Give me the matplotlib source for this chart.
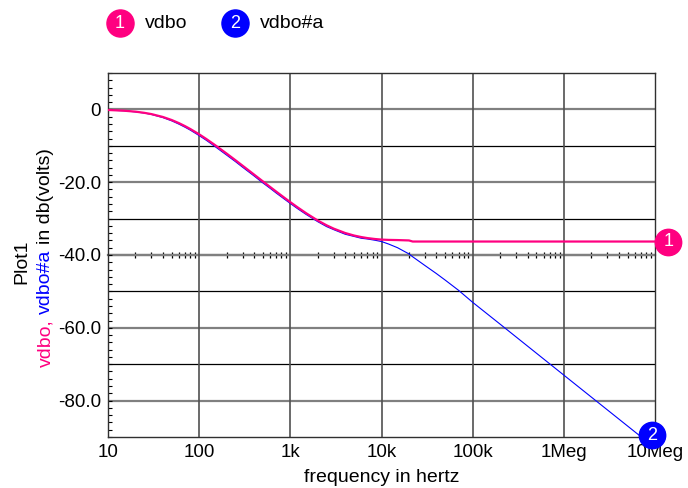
import numpy as np
import matplotlib
matplotlib.use("Agg")
import matplotlib.pyplot as plt
from matplotlib.lines import Line2D
from matplotlib.ticker import (LogLocator, MultipleLocator, NullFormatter,
                               NullLocator, FixedLocator, FuncFormatter)
from matplotlib.transforms import offset_copy

# frequency sweep (Hz) and the two traces (dB)
FREQ = [10, 15, 20, 25, 30, 40, 50, 60, 70, 80,
        100, 120, 150, 200, 250, 300, 400, 500, 600, 700, 850,
        1e3, 1.2e3, 1.5e3, 2e3, 2.5e3, 3e3, 4e3, 5e3, 6e3, 7e3, 8.5e3,
        1e4, 1.2e4, 1.5e4, 2e4, 2.2e4, 3e4, 4e4, 5e4, 7e4,
        1e5, 2e5, 1e6, 1e7]
VDBO = [-0.16, -0.36, -0.62, -0.94, -1.29, -2.08, -2.92, -3.77, -4.60, -5.39,
        -6.84, -8.14, -9.84, -12.13, -13.96, -15.48, -17.90, -19.78, -21.30, -22.58, -24.17,
        -25.48, -26.90, -28.56, -30.53, -31.84, -32.77, -33.96, -34.65, -35.07, -35.35, -35.61,
        -35.77, -35.85, -35.90, -36.00, -36.30, -36.30, -36.30, -36.30, -36.30,
        -36.30, -36.30, -36.30, -36.30]
VDBO_A = [-0.18, -0.38, -0.68, -1.00, -1.40, -2.25, -3.15, -4.05, -4.90, -5.70,
          -7.20, -8.50, -10.25, -12.55, -14.35, -15.90, -18.28, -20.20, -21.68, -22.98, -24.55,
          -25.85, -27.27, -28.90, -30.85, -32.20, -33.05, -34.30, -34.90, -35.40, -35.60, -35.95,
          -36.30, -37.00, -38.00, -39.70, -40.50, -42.90, -45.10, -46.90, -49.70,
          -53.00, -59.00, -73.00, -93.00]

SERIES = ["vdbo", "vdbo#a"]
X_TICKS = [10, 100, 1e3, 1e4, 1e5, 1e6, 1e7]
X_LABELS = ["10", "100", "1k", "10k", "100k", "1Meg", "10Meg"]
Y_TICKS = [0, -20, -40, -60, -80]
Y_GRID = [0, -10, -20, -30, -40, -50, -60, -70, -80]

PINK = "#FF0080"
BLUE = "#0000FF"

plt.rcParams.update({"font.family": ["Liberation Sans", "DejaVu Sans"],
                     "axes.unicode_minus": False})

W, H = 688, 488
fig = plt.figure(figsize=(W / 100, H / 100), dpi=100)
ax = fig.add_axes([108 / W, 1 - 437 / H, 547 / W, 364 / H])
ax.set_xscale("log")
ax.set_xlim(10, 1e7)
ax.set_ylim(-90, 10)

# grid: every 20 dB grey, the 10 dB in-betweens black
for y in Y_GRID:
    major = y % 20 == 0
    ax.axhline(y, color="#808080" if major else "black",
               lw=1.6 if major else 0.9, zorder=1)
for x in X_TICKS[1:-1]:
    ax.axvline(x, color="#505050", lw=1.2, zorder=1)

ax.plot(FREQ, VDBO_A, color=BLUE, lw=0.8, zorder=3)
ax.plot(FREQ, VDBO, color=PINK, lw=1.6, zorder=4)

ax.set_xticks(X_TICKS)
ax.set_xticklabels(X_LABELS)
ax.xaxis.set_minor_locator(NullLocator())
ax.tick_params(axis="x", which="major", length=0, pad=5, labelsize=13.5)

ax.set_yticks(Y_TICKS)
ax.yaxis.set_major_formatter(FuncFormatter(lambda v, p: "0" if v == 0 else f"{v:.1f}"))
ax.yaxis.set_minor_locator(MultipleLocator(2))
ax.tick_params(axis="y", which="both", direction="in", length=3, width=0.8,
               pad=5, labelsize=13.5, right=False)

for sp in ax.spines.values():
    sp.set_color("#303030")
    sp.set_linewidth(1.0)

# the x axis with its log ticks is drawn across the plot at -40
y0, y1 = ax.get_ylim()
sec = ax.secondary_xaxis((-40 - y0) / (y1 - y0))
sec.xaxis.set_major_locator(FixedLocator(X_TICKS))
sec.xaxis.set_minor_locator(LogLocator(10, subs=np.arange(2, 10) * 1.0, numticks=50))
sec.xaxis.set_major_formatter(NullFormatter())
sec.xaxis.set_minor_formatter(NullFormatter())
sec.tick_params(which="major", length=0)
sec.tick_params(which="minor", direction="inout", length=5, width=0.9, color="black")
for sp in sec.spines.values():
    sp.set_color("#707070")
    sp.set_linewidth(1.6)


def end_marker(x, y, num, color, dx, dy):
    y = min(max(y, y0), y1)
    tr = offset_copy(ax.transData, fig=fig, x=dx, y=dy, units="points")
    ax.plot([x], [y], "o", ms=19, color=color, transform=tr, clip_on=False, zorder=6)
    ax.text(x, y, num, transform=tr, color="white", ha="center", va="center",
            fontsize=13, zorder=7, clip_on=False)


end_marker(FREQ[-1], VDBO[-1], "1", PINK, 9.5, 0)
end_marker(FREQ[-1], VDBO_A[-1], "2", BLUE, -2.4, 1.4)

# legend along the top
for cx, num, color, name in [(120, "1", PINK, SERIES[0]), (235, "2", BLUE, SERIES[1])]:
    fig.add_artist(Line2D([cx / W], [1 - 23 / H], marker="o", ms=19.5, color=color,
                          lw=0, transform=fig.transFigure))
    fig.text(cx / W, 1 - 23 / H, num, color="white", ha="center", va="center", fontsize=13)
    fig.text((cx + 25) / W, 1 - 23 / H, name, ha="left", va="center", fontsize=14)

fig.text(381.5 / W, 1 - 478 / H, "frequency in hertz", ha="center", va="center", fontsize=14)

# y label: "Plot1" then a multi-coloured second line
fig.text(26 / W, 1 - 262 / H, "Plot1", rotation=90, rotation_mode="anchor",
         ha="center", va="baseline", fontsize=14)

renderer = fig.canvas.get_renderer()


def text_len(s):
    t = fig.text(0, 0, s, fontsize=14, rotation=90, rotation_mode="anchor")
    n = t.get_window_extent(renderer).height
    t.remove()
    return n


space = text_len("a a") - text_len("aa")
ypos = H - 367
for s, c in [("vdbo,", PINK), ("vdbo#a", BLUE), ("in db(volts)", "black")]:
    t = fig.text(50 / W, ypos / H, s, color=c, rotation=90, rotation_mode="anchor",
                 ha="left", va="baseline", fontsize=14)
    ypos += t.get_window_extent(renderer).height + space

fig.savefig("out.png", dpi=100)
